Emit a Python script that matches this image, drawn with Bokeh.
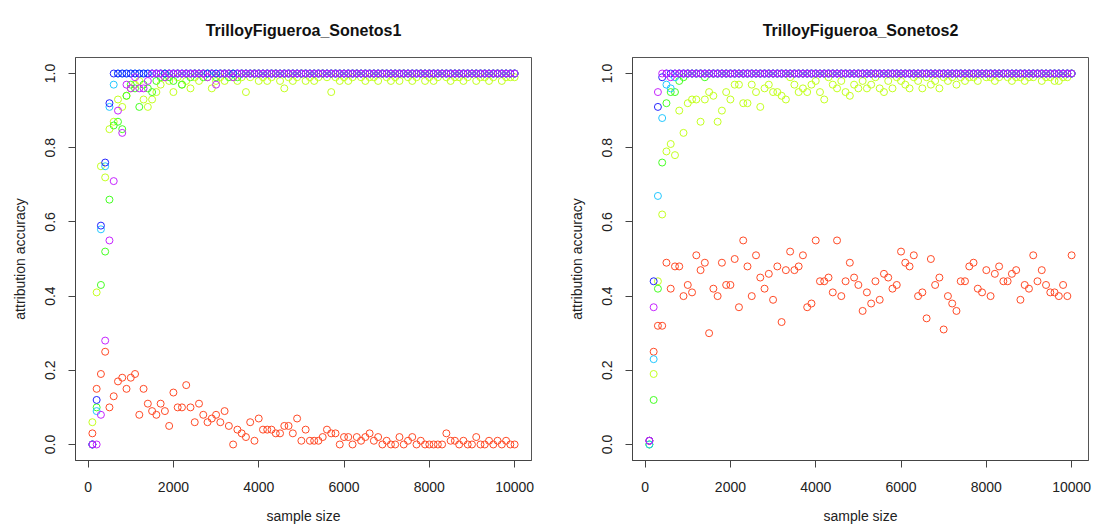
from bokeh.plotting import figure
from bokeh.layouts import row
from bokeh.models import FixedTicker, PrintfTickFormatter, Range1d, Title
from bokeh.embed import file_html
from bokeh.resources import INLINE

sample_size = list(range(100, 10001, 100))

titles = ["TrilloyFigueroa_Sonetos1", "TrilloyFigueroa_Sonetos2"]
x_ticks = [0, 2000, 4000, 6000, 8000, 10000]
y_ticks = [0.0, 0.2, 0.4, 0.6, 0.8, 1.0]
colors = ["#FF4A26", "#C4FF20", "#44FF22", "#22C8FF", "#2424FF", "#C624FF"]

s1_red = [0.03, 0.15, 0.19, 0.25, 0.10, 0.13, 0.17, 0.18, 0.15, 0.18,
          0.19, 0.08, 0.15, 0.11, 0.09, 0.08, 0.11, 0.09, 0.05, 0.14,
          0.10, 0.10, 0.16, 0.10, 0.06, 0.11, 0.08, 0.06, 0.07, 0.08,
          0.06, 0.09, 0.05, 0.00, 0.04, 0.03, 0.02, 0.06, 0.01, 0.07,
          0.04, 0.04, 0.04, 0.03, 0.03, 0.05, 0.05, 0.03, 0.07, 0.01,
          0.04, 0.01, 0.01, 0.01, 0.02, 0.04, 0.03, 0.03, 0.00, 0.02,
          0.02, 0.00, 0.02, 0.01, 0.02, 0.03, 0.01, 0.02, 0.00, 0.01,
          0.00, 0.00, 0.02, 0.00, 0.01, 0.02, 0.00, 0.01, 0.00, 0.00,
          0.00, 0.00, 0.00, 0.03, 0.01, 0.01, 0.00, 0.01, 0.00, 0.00,
          0.02, 0.00, 0.00, 0.01, 0.00, 0.01, 0.00, 0.01, 0.00, 0.00]
s1_ylg = [0.06, 0.41, 0.75, 0.72, 0.85, 0.87, 0.93, 0.91, 0.94, 0.96,
          0.97, 0.98, 0.93, 0.91, 0.93, 0.95, 0.97, 0.99, 0.98, 0.95,
          0.99, 0.97, 0.98, 0.96, 0.99, 0.98, 1.00, 0.99, 0.96, 0.98,
          0.99, 0.98, 1.00, 0.99, 0.98, 0.99, 0.95, 0.99, 1.00, 0.98,
          0.99, 0.98, 0.99, 1.00, 0.98, 0.96, 0.99, 0.98, 0.99, 1.00,
          0.98, 0.99, 0.98, 0.99, 1.00, 0.99, 0.95, 0.99, 0.98, 0.99,
          0.98, 0.99, 1.00, 0.99, 0.98, 0.99, 0.99, 0.98, 1.00, 0.99,
          0.98, 0.99, 0.98, 1.00, 0.99, 0.98, 0.99, 1.00, 0.98, 0.99,
          0.98, 0.99, 1.00, 0.99, 0.98, 0.99, 0.99, 0.98, 0.99, 1.00,
          0.98, 0.99, 0.99, 0.98, 0.99, 1.00, 0.98, 0.99, 0.99, 0.99]
s1_grn = [0.00, 0.10, 0.43, 0.52, 0.66, 0.86, 0.87, 0.85, 0.94, 0.97,
          0.96, 0.91, 0.97, 0.96, 0.95, 0.98, 0.99, 1.00, 0.99, 0.98,
          1.00, 0.97, 1.00, 0.99, 1.00, 1.00, 0.99, 1.00, 1.00, 0.99,
          1.00, 1.00, 0.99, 1.00, 0.99, 1.00, 1.00, 1.00, 1.00, 1.00,
          1.00, 1.00, 1.00, 1.00, 1.00, 1.00, 1.00, 1.00, 1.00, 1.00,
          1.00, 1.00, 1.00, 1.00, 1.00, 1.00, 1.00, 1.00, 1.00, 1.00,
          1.00, 1.00, 1.00, 1.00, 1.00, 1.00, 1.00, 1.00, 1.00, 1.00,
          1.00, 1.00, 1.00, 1.00, 1.00, 1.00, 1.00, 1.00, 1.00, 1.00,
          1.00, 1.00, 1.00, 1.00, 1.00, 1.00, 1.00, 1.00, 1.00, 1.00,
          1.00, 1.00, 1.00, 1.00, 1.00, 1.00, 1.00, 1.00, 1.00, 1.00]
s1_cyn = [0.00, 0.09, 0.58, 0.75, 0.91, 0.97] + [1.00] * 94
s1_blu = [0.00, 0.12, 0.59, 0.76, 0.92] + [1.00] * 95
s1_mag = [0.00, 0.00, 0.08, 0.28, 0.55, 0.71, 0.90, 0.84, 0.97, 0.96,
          0.99, 0.96, 0.96, 0.98, 1.00, 1.00, 1.00, 0.99, 1.00, 1.00,
          1.00, 1.00, 1.00, 1.00, 1.00, 1.00, 1.00, 0.99, 1.00, 0.97,
          1.00, 1.00, 1.00, 0.99] + [1.00] * 66

s2_red = [0.01, 0.25, 0.32, 0.32, 0.49, 0.42, 0.48, 0.48, 0.40, 0.43,
          0.41, 0.51, 0.47, 0.49, 0.30, 0.42, 0.40, 0.49, 0.43, 0.43,
          0.50, 0.37, 0.55, 0.48, 0.40, 0.51, 0.45, 0.42, 0.46, 0.39,
          0.48, 0.33, 0.47, 0.52, 0.47, 0.48, 0.51, 0.37, 0.38, 0.55,
          0.44, 0.44, 0.45, 0.41, 0.55, 0.40, 0.44, 0.49, 0.45, 0.43,
          0.36, 0.41, 0.38, 0.44, 0.39, 0.46, 0.45, 0.42, 0.43, 0.52,
          0.49, 0.48, 0.51, 0.40, 0.41, 0.34, 0.50, 0.43, 0.45, 0.31,
          0.40, 0.38, 0.36, 0.44, 0.44, 0.48, 0.49, 0.42, 0.41, 0.47,
          0.40, 0.46, 0.48, 0.44, 0.44, 0.46, 0.47, 0.39, 0.43, 0.42,
          0.51, 0.44, 0.47, 0.43, 0.41, 0.41, 0.40, 0.43, 0.40, 0.51]
s2_ylg = [0.00, 0.19, 0.44, 0.62, 0.79, 0.81, 0.78, 0.90, 0.84, 0.92,
          0.93, 0.93, 0.87, 0.93, 0.95, 0.94, 0.87, 0.90, 0.95, 0.93,
          0.97, 0.97, 0.92, 0.92, 0.97, 0.95, 0.91, 0.96, 0.97, 0.95,
          0.95, 0.94, 0.93, 0.99, 0.97, 0.95, 0.96, 0.95, 0.97, 0.98,
          0.95, 0.93, 0.99, 0.97, 0.96, 0.98, 0.95, 0.94, 0.97, 0.96,
          0.98, 0.96, 0.97, 0.99, 0.96, 0.95, 0.98, 0.96, 0.99, 0.98,
          0.97, 0.96, 0.99, 0.98, 0.96, 0.99, 0.97, 0.98, 0.96, 0.99,
          0.98, 0.99, 0.97, 0.99, 0.98, 0.99, 0.99, 0.98, 1.00, 0.99,
          0.99, 0.98, 0.99, 1.00, 0.99, 0.98, 0.99, 0.99, 0.98, 0.99,
          0.99, 1.00, 0.98, 0.99, 0.99, 0.98, 0.98, 0.99, 0.99, 1.00]
s2_grn = [0.00, 0.12, 0.42, 0.76, 0.92, 0.95, 0.95, 0.98, 0.99, 1.00,
          1.00, 1.00, 1.00, 0.99] + [1.00] * 86
s2_cyn = [0.00, 0.23, 0.67, 0.88, 0.97, 0.96, 0.99] + [1.00] * 93
s2_blu = [0.01, 0.44, 0.91, 0.99] + [1.00] * 96
s2_mag = [0.01, 0.37, 0.95, 1.00, 1.00, 0.99] + [1.00] * 94

panels = [
    [s1_red, s1_ylg, s1_grn, s1_cyn, s1_blu, s1_mag],
    [s2_red, s2_ylg, s2_grn, s2_cyn, s2_blu, s2_mag],
]

FONT = "Liberation Sans"


def make(title, series, width, border_left, border_right):
    p = figure(width=width, height=528, output_backend="svg", toolbar_location=None,
               x_range=Range1d(-296, 10396), y_range=Range1d(-0.0432, 1.0432),
               min_border_left=border_left, min_border_right=border_right,
               min_border_top=54, min_border_bottom=68)
    p.background_fill_color = "white"
    p.border_fill_color = "white"
    p.outline_line_color = "#555555"
    p.outline_line_width = 1
    p.grid.visible = False

    xa = p.below[0]
    ya = p.left[0]
    for ax in (xa, ya):
        ax.axis_line_color = "#444444"
        ax.major_tick_line_color = "#444444"
        ax.major_tick_out = 7
        ax.major_tick_in = 0
        ax.minor_tick_line_color = None
        ax.major_label_text_font = FONT
        ax.major_label_text_font_size = "14px"
        ax.major_label_text_color = "#222222"
        ax.axis_label_text_font = FONT
        ax.axis_label_text_font_size = "14px"
        ax.axis_label_text_font_style = "normal"
        ax.axis_label_text_color = "#222222"

    xa.ticker = FixedTicker(ticks=x_ticks)
    xa.formatter = PrintfTickFormatter(format="%d")
    xa.axis_label = "sample size"
    xa.major_label_standoff = 14
    xa.axis_label_standoff = 13

    ya.ticker = FixedTicker(ticks=y_ticks)
    ya.formatter = PrintfTickFormatter(format="%.1f")
    ya.major_label_orientation = "vertical"
    ya.axis_label = "attribution accuracy"
    ya.major_label_standoff = 13
    ya.axis_label_standoff = 15

    p.add_layout(Title(text=title, text_font=FONT, text_font_size="16px",
                       text_font_style="bold", text_color="#111111",
                       align="center", standoff=38), "above")

    for vals, c in zip(series, colors):
        assert len(vals) == len(sample_size)
        p.scatter(sample_size, vals, marker="circle", size=7, fill_color=None,
                  line_color=c, line_width=1)
    return p


p1 = make(titles[0], panels[0], 561, 75, 30)
p2 = make(titles[1], panels[1], 532, 71, 5)
layout = row(p1, p2)

open("out.html", "w").write(file_html(layout, INLINE))
